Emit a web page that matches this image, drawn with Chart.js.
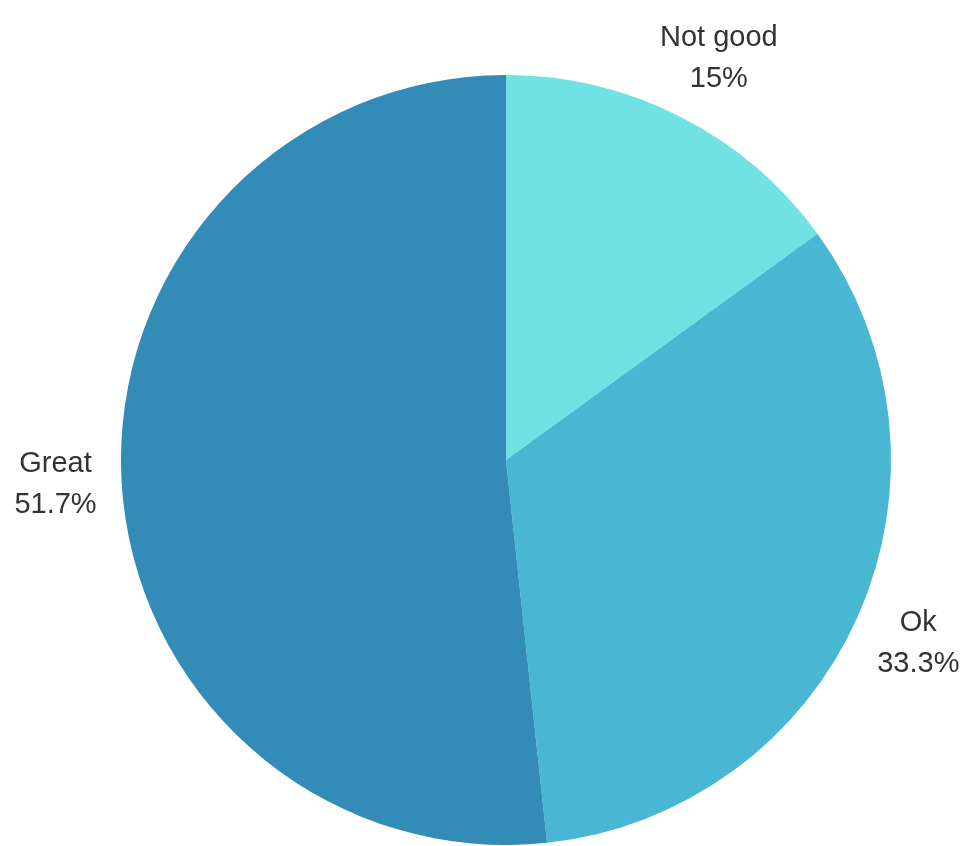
<!DOCTYPE html>
<html>
<head>
<meta charset="utf-8">
<script src="https://cdn.jsdelivr.net/npm/chart.js@4"></script>
<style>
  html, body { margin: 0; padding: 0; background: #fff; }
  #wrap { width: 968px; height: 846px; position: relative; }
</style>
</head>
<body>
<div id="wrap"><canvas id="pieChart"></canvas></div>
<script>
const labels = ["Not good", "Ok", "Great"];
const values = [15, 33.3, 51.7];
const colors = ["#70e2e3", "#49b6d3", "#338bb8"];

// Draw "label\nvalue%" outside each slice
const outsideLabels = {
  id: "outsideLabels",
  afterDraw(chart) {
    const ctx = chart.ctx;
    const meta = chart.getDatasetMeta(0);
    const fontSize = 29;
    const lineH = 41;
    ctx.save();
    ctx.font = fontSize + "px 'Liberation Sans', Arial, sans-serif";
    ctx.fillStyle = "#333";
    ctx.textAlign = "center";
    ctx.textBaseline = "middle";
    meta.data.forEach((arc, i) => {
      const p = arc.getProps(["x", "y", "startAngle", "endAngle", "outerRadius"], true);
      const mid = (p.startAngle + p.endAngle) / 2;
      const lines = [labels[i], values[i] + "%"];
      const halfW = Math.max(...lines.map((l) => ctx.measureText(l).width)) / 2;
      const halfH = lines.length * lineH / 2;
      const cos = Math.cos(mid);
      const sin = Math.sin(mid);
      const r = p.outerRadius + 25;
      const cx = p.x + cos * r + halfW * cos;
      const cy = p.y + sin * r + halfH * sin;
      lines.forEach((l, k) => {
        ctx.fillText(l, cx, cy - halfH + lineH / 2 + k * lineH);
      });
    });
    ctx.restore();
  },
};

new Chart(document.getElementById("pieChart"), {
  type: "pie",
  data: {
    labels: labels,
    datasets: [
      {
        data: values,
        backgroundColor: colors,
        borderWidth: 0,
      },
    ],
  },
  options: {
    responsive: true,
    maintainAspectRatio: false,
    animation: false,
    layout: {
      padding: { top: 75, bottom: 1, left: 121, right: 77 },
    },
    plugins: {
      legend: { display: false },
      tooltip: { enabled: false },
    },
  },
  plugins: [outsideLabels],
});
</script>
</body>
</html>
